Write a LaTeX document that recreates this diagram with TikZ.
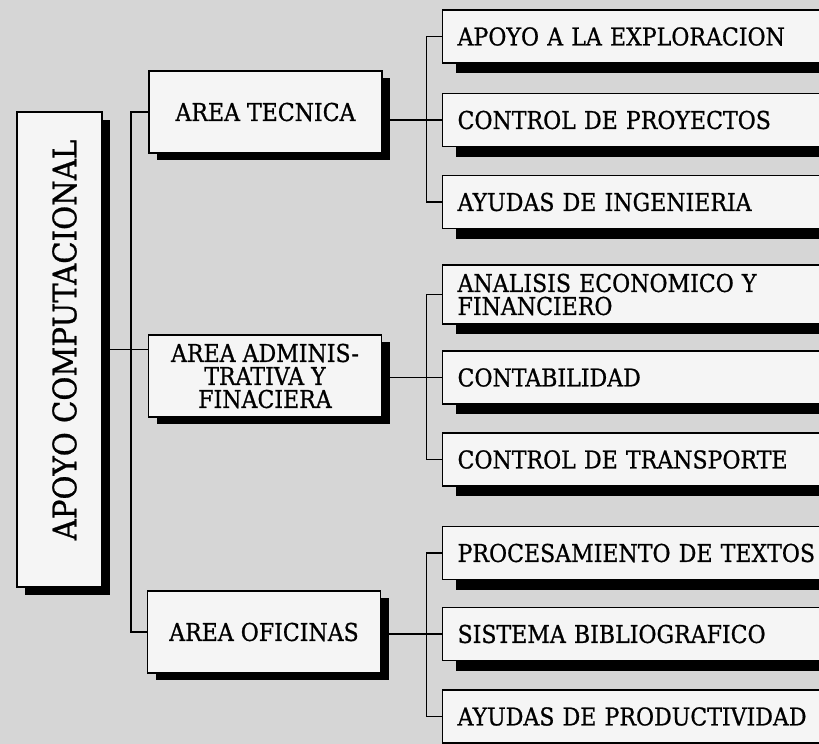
\documentclass[tikz,border=0pt]{standalone}
\usepackage{fontspec}
\setmainfont{DejaVu Serif}[FakeStretch=0.9,FakeBold=0.8]
\usetikzlibrary{shadows,calc}

\begin{document}
\begin{tikzpicture}[x=1pt,y=-1pt,
  box/.style={rectangle,draw,line width=1.2pt,fill=black!4,inner sep=0pt},
  areabox/.style={box,minimum width=233pt,minimum height=82pt,align=center,
    font=\fontsize{24.5}{23}\selectfont,
    drop shadow={shadow xshift=8pt,shadow yshift=-7pt,fill=black,opacity=1}},
  itembox/.style={box,anchor=west,minimum width=430pt,minimum height=53pt,
    inner xsep=15pt,text width=400pt,align=left,
    font=\fontsize{24.5}{23}\selectfont,
    drop shadow={shadow xshift=13pt,shadow yshift=-10pt,fill=black,opacity=1}},
  link/.style={line width=1.4pt}]

 % page and halftone ground
 \useasboundingbox (0,0) rectangle (819,744);
 \fill[black!16] (0,0) rectangle (819,744);

 % root
 \node[box,minimum width=85pt,minimum height=475pt,
   drop shadow={shadow xshift=8pt,shadow yshift=-8pt,fill=black,opacity=1}] (apoyo) at (59.5,349.5) {};
 \node[rotate=90,font=\fontsize{32.5}{32.5}\selectfont] (apoyolbl) at (64.5,340) {APOYO COMPUTACIONAL};

 % areas
 \node[areabox] (tecnica) at (265.5,112) {AREA TECNICA};
 \node[areabox] (admin) at (265,376) {AREA ADMINIS-\\TRATIVA Y\\FINACIERA};
 \node[areabox] (oficinas) at (264,632) {AREA OFICINAS};

 % services
 \node[itembox] (exploracion) at (442,36.5) {APOYO A LA EXPLORACION};
 \node[itembox] (proyectos) at (442,120) {CONTROL DE PROYECTOS};
 \node[itembox] (ingenieria) at (442,202) {AYUDAS DE INGENIERIA};
 \node[itembox,minimum height=59pt] (analisis) at (442,294.5) {ANALISIS ECONOMICO Y\\FINANCIERO};
 \node[itembox] (contabilidad) at (442,377.5) {CONTABILIDAD};
 \node[itembox] (transporte) at (442,459.5) {CONTROL DE TRANSPORTE};
 \node[itembox] (textos) at (442,553) {PROCESAMIENTO DE TEXTOS};
 \node[itembox] (biblio) at (442,634) {SISTEMA BIBLIOGRAFICO};
 \node[itembox] (productividad) at (442,716.5) {AYUDAS DE PRODUCTIVIDAD};

 % connectors
 \coordinate (trunk) at (131,0);
 \coordinate (bus) at (426.5,0);
 \draw[link] (apoyo.east) -- (apoyo.east -| admin.west);
 \draw[link] (tecnica.west) -| (trunk |- oficinas.west) -- (oficinas.west);
 \foreach \grp/\ia/\ib/\ic in {tecnica/exploracion/proyectos/ingenieria,
     admin/analisis/contabilidad/transporte,
     oficinas/textos/biblio/productividad} {
   \draw[link] (\grp.east |- \ib.west) -- (\ib.west);
   \draw[link] (\ia.west) -| (bus |- \ic.west) -- (\ic.west);
 }
\end{tikzpicture}
\end{document}
